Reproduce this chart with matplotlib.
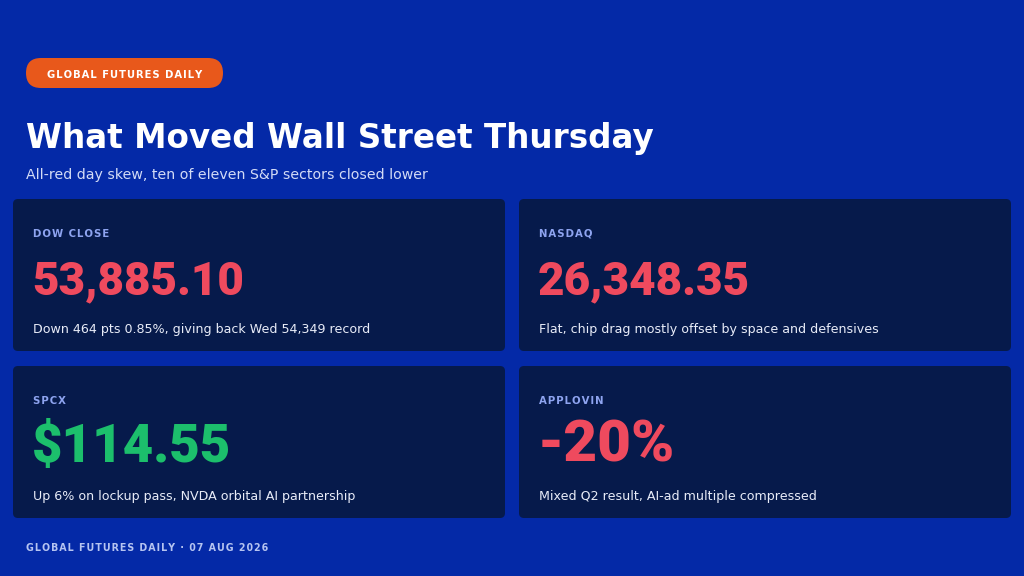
import matplotlib
matplotlib.use("Agg")
import matplotlib.pyplot as plt
from matplotlib.patches import FancyBboxPatch

# ---------- data ----------
badge = "GLOBAL FUTURES DAILY"
title = "What Moved Wall Street Thursday"
subtitle = "All-red day skew, ten of eleven S&P sectors closed lower"
footer = "GLOBAL FUTURES DAILY · 07 AUG 2026"

card_labels = ["DOW CLOSE", "NASDAQ", "SPCX", "APPLOVIN"]
card_values = ["53,885.10", "26,348.35", "$114.55", "-20%"]
card_notes = [
    "Down 464 pts 0.85%, giving back Wed 54,349 record",
    "Flat, chip drag mostly offset by space and defensives",
    "Up 6% on lockup pass, NVDA orbital AI partnership",
    "Mixed Q2 result, AI-ad multiple compressed",
]
card_up = [False, False, True, False]

# ---------- style ----------
BG = "#0429a7"
CARD = "#061a4b"
ORANGE = "#e8581b"
LABEL = "#8ea4f0"
RED = "#ef4a5e"
GREEN = "#1cbf6c"
NOTE = "#e8ecf8"
FOOT = "#b6c4f1"
FONT = "DejaVu Sans"
NUMFONT = ["Roboto", "DejaVu Sans"]

W, H = 1024, 576


def spaced(s):
    # poor man's letter spacing
    return "\u200a".join(s)


fig = plt.figure(figsize=(W / 100, H / 100), dpi=100, facecolor=BG)
ax = fig.add_axes([0, 0, 1, 1])
ax.set_xlim(0, W)
ax.set_ylim(H, 0)
ax.axis("off")
ax.set_facecolor(BG)

# badge pill
ax.add_patch(FancyBboxPatch((26, 58), 197, 30, boxstyle="round,pad=0,rounding_size=15",
                            fc=ORANGE, ec="none"))
ax.text(124.5, 77.5, spaced(badge), color="white", fontsize=7.2, fontweight="bold",
        family=FONT, ha="center", va="baseline")

ax.text(26, 148, title, color="white", fontsize=23.5, fontweight="bold",
        family=FONT, va="baseline")
ax.text(26, 179, subtitle, color="#d3dbf6", fontsize=10.2, family=FONT, va="baseline")

# cards
card_x = [13, 519, 13, 519]
card_y = [199, 199, 366, 366]
value_size = [33, 33, 38, 42]
for i in range(4):
    x0, y0 = card_x[i], card_y[i]
    ax.add_patch(FancyBboxPatch((x0, y0), 492, 152, boxstyle="round,pad=0,rounding_size=5",
                                fc=CARD, ec="none"))
    tx = x0 + 20
    ax.text(tx, y0 + 38, spaced(card_labels[i]), color=LABEL, fontsize=7.3,
            fontweight="bold", family=FONT, va="baseline")
    base = 95 if i < 2 else 96
    ax.text(tx - 1, y0 + base, card_values[i],
            color=GREEN if card_up[i] else RED, fontsize=value_size[i],
            fontweight=900, family=NUMFONT, va="baseline")
    ax.text(tx, y0 + 134, card_notes[i], color=NOTE, fontsize=9.1, family=FONT,
            va="baseline")

ax.text(26, 551, spaced(footer), color=FOOT, fontsize=6.85, fontweight="bold",
        family=FONT, va="baseline")

fig.savefig("out.png", dpi=100, facecolor=BG)
